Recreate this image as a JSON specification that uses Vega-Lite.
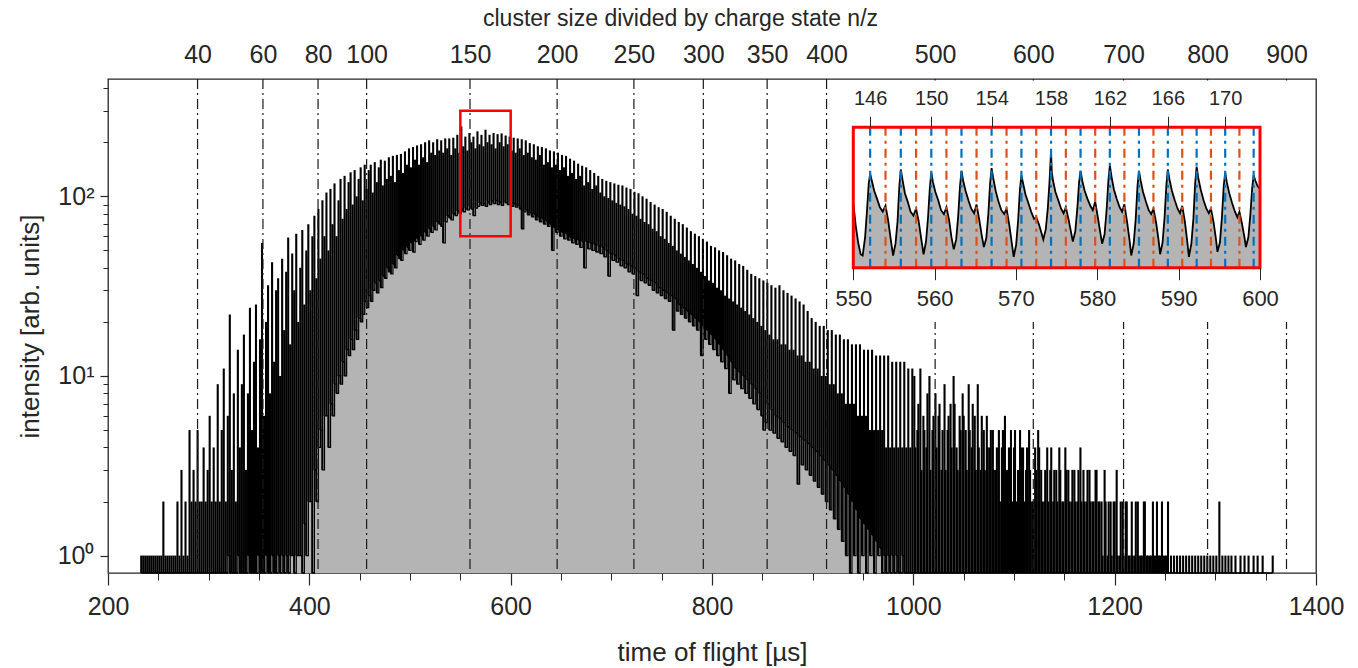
{
"$schema":"https://vega.github.io/schema/vega-lite/v6.json",
"width":1208,"height":494,
"autosize":{"type":"none"},
"padding":{"left":108,"top":79,"right":42,"bottom":95},
"background":"white",
"config":{"view":{"stroke":"#262626","strokeWidth":1.3},"font":"Liberation Sans",
"axis":{"labelFont":"Liberation Sans","titleFont":"Liberation Sans","labelColor":"#262626","titleColor":"#262626","tickColor":"#262626","domainColor":"#262626","titleFontWeight":"normal","grid":false,"labelFontSize":25,"titleFontSize":26,"labelOverlap":false,"labelFlush":false}},
"datasets":{
"box":[{"t0":550,"t1":600,"lo":60,"hi":300}],
"nz":[{"n":40,"t":288.97},{"n":60,"t":353.91},{"n":80,"t":408.66},{"n":100,"t":456.9},{"n":150,"t":559.59},{"n":200,"t":646.15},{"n":250,"t":722.42},{"n":300,"t":791.37},{"n":350,"t":854.78},{"n":400,"t":913.8},{"n":500,"t":1021.66},{"n":600,"t":1119.17},{"n":700,"t":1208.84},{"n":800,"t":1292.29},{"n":900,"t":1370.7}],
"peaks":[{"n":146,"t":552.07,"s":"even"},{"n":147,"t":553.96,"s":"odd"},{"n":148,"t":555.84,"s":"even"},{"n":149,"t":557.72,"s":"odd"},{"n":150,"t":559.59,"s":"even"},{"n":151,"t":561.45,"s":"odd"},{"n":152,"t":563.3,"s":"even"},{"n":153,"t":565.15,"s":"odd"},{"n":154,"t":567.0,"s":"even"},{"n":155,"t":568.84,"s":"odd"},{"n":156,"t":570.67,"s":"even"},{"n":157,"t":572.49,"s":"odd"},{"n":158,"t":574.31,"s":"even"},{"n":159,"t":576.13,"s":"odd"},{"n":160,"t":577.94,"s":"even"},{"n":161,"t":579.74,"s":"odd"},{"n":162,"t":581.54,"s":"even"},{"n":163,"t":583.33,"s":"odd"},{"n":164,"t":585.12,"s":"even"},{"n":165,"t":586.9,"s":"odd"},{"n":166,"t":588.67,"s":"even"},{"n":167,"t":590.44,"s":"odd"},{"n":168,"t":592.21,"s":"even"},{"n":169,"t":593.97,"s":"odd"},{"n":170,"t":595.72,"s":"even"},{"n":171,"t":597.47,"s":"odd"},{"n":172,"t":599.22,"s":"even"}],
"zoom":[{"t":550,"v":126},{"t":550.3,"v":97},{"t":550.6,"v":80},{"t":550.9,"v":70},{"t":551.15,"v":69},{"t":551.45,"v":85},{"t":551.7,"v":118},{"t":551.9,"v":158},
{"t":552.07,"v":176},{"t":552.27,"v":163},{"t":552.57,"v":145},{"t":552.92,"v":132},{"t":553.27,"v":120},{"t":553.62,"v":114},{"t":553.96,"v":122},{"t":554.27,"v":104},{"t":554.57,"v":85},{"t":554.89,"v":69},{"t":555.19,"v":79},{"t":555.44,"v":102},{"t":555.66,"v":153},
{"t":555.84,"v":185},{"t":556.04,"v":165},{"t":556.34,"v":141},{"t":556.69,"v":128},{"t":557.04,"v":114},{"t":557.39,"v":109},{"t":557.72,"v":118},{"t":558.04,"v":102},{"t":558.34,"v":84},{"t":558.64,"v":70},{"t":558.94,"v":81},{"t":559.19,"v":107},{"t":559.41,"v":150},
{"t":559.59,"v":179},{"t":559.79,"v":160},{"t":560.09,"v":143},{"t":560.44,"v":130},{"t":560.79,"v":116},{"t":561.14,"v":111},{"t":561.45,"v":120},{"t":561.77,"v":104},{"t":562.07,"v":85},{"t":562.35,"v":74},{"t":562.65,"v":83},{"t":562.9,"v":109},{"t":563.12,"v":153},
{"t":563.3,"v":182},{"t":563.5,"v":163},{"t":563.8,"v":145},{"t":564.15,"v":130},{"t":564.5,"v":118},{"t":564.85,"v":112},{"t":565.15,"v":124},{"t":565.47,"v":105},{"t":565.77,"v":88},{"t":566.05,"v":76},{"t":566.35,"v":84},{"t":566.6,"v":111},{"t":566.82,"v":158},
{"t":567.0,"v":188},{"t":567.2,"v":168},{"t":567.5,"v":145},{"t":567.85,"v":128},{"t":568.2,"v":116},{"t":568.55,"v":111},{"t":568.84,"v":118},{"t":569.16,"v":99},{"t":569.46,"v":81},{"t":569.72,"v":68},{"t":570.02,"v":78},{"t":570.27,"v":104},{"t":570.49,"v":148},
{"t":570.67,"v":173},{"t":570.87,"v":158},{"t":571.17,"v":139},{"t":571.52,"v":126},{"t":571.87,"v":114},{"t":572.22,"v":105},{"t":572.49,"v":107},{"t":572.81,"v":99},{"t":573.11,"v":90},{"t":573.36,"v":83},{"t":573.66,"v":93},{"t":573.91,"v":118},{"t":574.13,"v":163},
{"t":574.31,"v":228},{"t":574.4,"v":180},{"t":574.55,"v":163},{"t":574.85,"v":143},{"t":575.2,"v":130},{"t":575.55,"v":118},{"t":575.85,"v":112},{"t":576.13,"v":120},{"t":576.45,"v":105},{"t":576.75,"v":91},{"t":576.99,"v":81},{"t":577.29,"v":91},{"t":577.54,"v":118},{"t":577.76,"v":160},
{"t":577.94,"v":182},{"t":578.14,"v":163},{"t":578.44,"v":145},{"t":578.79,"v":132},{"t":579.14,"v":122},{"t":579.44,"v":116},{"t":579.74,"v":128},{"t":580.06,"v":107},{"t":580.36,"v":90},{"t":580.59,"v":79},{"t":580.89,"v":88},{"t":581.14,"v":116},{"t":581.36,"v":163},
{"t":581.54,"v":194},{"t":581.74,"v":171},{"t":582.04,"v":147},{"t":582.39,"v":132},{"t":582.74,"v":120},{"t":583.04,"v":114},{"t":583.33,"v":124},{"t":583.65,"v":102},{"t":583.95,"v":83},{"t":584.17,"v":69},{"t":584.47,"v":79},{"t":584.72,"v":105},{"t":584.94,"v":153},
{"t":585.12,"v":182},{"t":585.32,"v":163},{"t":585.62,"v":143},{"t":585.97,"v":128},{"t":586.32,"v":116},{"t":586.62,"v":111},{"t":586.9,"v":118},{"t":587.22,"v":101},{"t":587.52,"v":83},{"t":587.72,"v":70},{"t":588.02,"v":80},{"t":588.27,"v":107},{"t":588.49,"v":155},
{"t":588.67,"v":185},{"t":588.87,"v":165},{"t":589.17,"v":145},{"t":589.52,"v":130},{"t":589.87,"v":118},{"t":590.17,"v":112},{"t":590.44,"v":122},{"t":590.76,"v":102},{"t":591.06,"v":81},{"t":591.26,"v":68},{"t":591.56,"v":79},{"t":591.81,"v":105},{"t":592.03,"v":158},
{"t":592.21,"v":191},{"t":592.41,"v":168},{"t":592.71,"v":147},{"t":593.06,"v":130},{"t":593.41,"v":118},{"t":593.71,"v":112},{"t":593.97,"v":118},{"t":594.29,"v":101},{"t":594.59,"v":83},{"t":594.77,"v":72},{"t":595.07,"v":80},{"t":595.32,"v":107},{"t":595.54,"v":153},
{"t":595.72,"v":179},{"t":595.92,"v":160},{"t":596.22,"v":141},{"t":596.57,"v":126},{"t":596.92,"v":114},{"t":597.22,"v":107},{"t":597.47,"v":114},{"t":597.79,"v":99},{"t":598.09,"v":85},{"t":598.27,"v":76},{"t":598.57,"v":85},{"t":598.82,"v":111},{"t":599.04,"v":150},
{"t":599.22,"v":173},{"t":599.42,"v":163},{"t":599.7,"v":153},{"t":600,"v":148}],
"spec":[
{"t":233,"h":1,"l":0.5},{"t":235,"h":1,"l":0.5},{"t":237,"h":1,"l":0.5},{"t":239,"h":1,"l":0.5},{"t":241,"h":1,"l":0.5},{"t":243,"h":1,"l":0.5},{"t":245,"h":1,"l":0.5},{"t":247,"h":1,"l":0.5},{"t":249,"h":1,"l":0.5},{"t":251,"h":1,"l":0.5},{"t":253,"h":1,"l":0.5},{"t":255,"h":2,"l":0.5},{"t":257,"h":1,"l":0.5},{"t":259,"h":1,"l":0.5},{"t":261,"h":1,"l":0.5},{"t":263,"h":1,"l":0.5},{"t":265,"h":1,"l":0.5},{"t":267,"h":1,"l":0.5},{"t":269,"h":2,"l":0.5},{"t":271,"h":1,"l":0.5},{"t":273,"h":3,"l":0.5},{"t":275,"h":1,"l":0.5},{"t":277,"h":2,"l":0.5},{"t":279,"h":1,"l":0.5},{"t":281,"h":5,"l":0.5},{"t":283,"h":2,"l":0.5},{"t":285,"h":3,"l":0.5},{"t":287,"h":2,"l":0.5},{"t":289,"h":5,"l":0.5},
{"t":291,"h":2,"l":0.5},{"t":293,"h":2,"l":0.5},{"t":295,"h":4,"l":0.5},{"t":297,"h":2,"l":0.5},{"t":299,"h":3,"l":0.5},{"t":301,"h":6,"l":0.5},{"t":303,"h":2,"l":0.5},{"t":305,"h":4,"l":0.5},{"t":307,"h":2,"l":0.5},{"t":309,"h":9,"l":0.5},{"t":311,"h":2,"l":0.5},{"t":313,"h":5,"l":0.5},{"t":315,"h":11,"l":0.5},{"t":317,"h":2,"l":0.5},{"t":319,"h":6,"l":1},{"t":321,"h":22,"l":0.5},{"t":323,"h":3,"l":0.5},{"t":325,"h":8,"l":0.5},{"t":327,"h":2,"l":0.5},{"t":329,"h":14,"l":1},{"t":331,"h":4,"l":0.5},{"t":333,"h":9,"l":0.5},{"t":335,"h":17,"l":0.5},{"t":337,"h":3,"l":0.5},{"t":339,"h":8,"l":1},{"t":341,"h":24,"l":0.5},{"t":343,"h":5,"l":0.5},{"t":345,"h":12,"l":0.5},{"t":347,"h":25,"l":0.5},{"t":349,"h":4,"l":1},{"t":351,"h":16,"l":0.5},{"t":353,"h":55,"l":0.5},{"t":355,"h":6,"l":0.5},{"t":357,"h":20,"l":1},{"t":359,"h":32,"l":0.5},{"t":361,"h":8,"l":0.5},{"t":363,"h":43,"l":1},{"t":365,"h":12,"l":0.5},{"t":367,"h":30,"l":0.5},{"t":369,"h":35,"l":1},{"t":371,"h":10,"l":0.5},{"t":373,"h":45,"l":1},{"t":375,"h":18,"l":0.5},{"t":377,"h":38,"l":1},{"t":379,"h":59,"l":0.5},{"t":381,"h":15,"l":1},{"t":383,"h":48,"l":1},{"t":385,"h":30,"l":0.5},{"t":387,"h":62,"l":1},{"t":389,"h":20,"l":1},
{"t":391,"h":40,"l":1},{"t":393,"h":65,"l":0.5},{"t":395,"h":25,"l":1.5},{"t":397,"h":50,"l":1},{"t":399,"h":70,"l":2},{"t":401,"h":30,"l":2},{"t":403,"h":60,"l":0.5},{"t":405,"h":78,"l":3},{"t":407,"h":35,"l":2},{"t":409,"h":85,"l":4},{"t":411,"h":45,"l":5},{"t":413,"h":95,"l":3},{"t":415,"h":60,"l":6},{"t":417,"h":105,"l":6},{"t":419,"h":50,"l":4},{"t":421,"h":110,"l":7},{"t":423,"h":70,"l":6},{"t":425,"h":118,"l":9},{"t":427,"h":60,"l":8},{"t":429,"h":95,"l":10},
{"t":431,"h":125,"l":9},{"t":433,"h":75,"l":12},{"t":435,"h":130,"l":10},{"t":437,"h":85,"l":14},{"t":439,"h":120,"l":13},{"t":441,"h":136,"l":16},{"t":443,"h":90,"l":14},{"t":445,"h":140,"l":18},{"t":447,"h":100,"l":16},{"t":449,"h":125,"l":21},{"t":451,"h":145,"l":20},{"t":453,"h":95,"l":22},{"t":455,"h":150,"l":26},{"t":457,"h":110,"l":24},{"t":459,"h":140,"l":28},{"t":461,"h":150,"l":26},{"t":463,"h":105,"l":30},{"t":465,"h":155,"l":33},{"t":467,"h":120,"l":29},{"t":469,"h":145,"l":34},
{"t":471,"h":160,"l":31},{"t":473,"h":115,"l":36},{"t":475,"h":158,"l":35},{"t":477,"h":125,"l":40},{"t":479,"h":165,"l":38},{"t":481,"h":130,"l":37},{"t":483,"h":168,"l":42},{"t":485,"h":120,"l":40},{"t":487,"h":170,"l":47},{"t":489,"h":140,"l":45},{"t":491,"h":172,"l":44},{"t":493,"h":135,"l":50},{"t":495,"h":178,"l":48},{"t":497,"h":150,"l":52},{"t":499,"h":185,"l":50},{"t":501,"h":145,"l":55},{"t":503,"h":188,"l":49},{"t":505,"h":160,"l":56},{"t":507,"h":192,"l":58},{"t":509,"h":150,"l":54},
{"t":511,"h":195,"l":60},{"t":513,"h":165,"l":57},{"t":515,"h":200,"l":63},{"t":517,"h":155,"l":60},{"t":519,"h":205,"l":66},{"t":521,"h":175,"l":63},{"t":523,"h":200,"l":68},{"t":525,"h":170,"l":65},{"t":527,"h":208,"l":72},{"t":529,"h":180,"l":70},{"t":531,"h":205,"l":68},{"t":533,"h":175,"l":55},{"t":535,"h":210,"l":72},{"t":537,"h":185,"l":78},{"t":539,"h":210,"l":76},{"t":541,"h":170,"l":74},{"t":543,"h":212,"l":80},{"t":545,"h":185,"l":78},{"t":547,"h":220,"l":83},{"t":549,"h":175,"l":80},
{"t":551,"h":245,"l":85},{"t":553,"h":190,"l":82},{"t":555,"h":215,"l":86},{"t":557,"h":180,"l":84},{"t":559,"h":225,"l":88},{"t":561,"h":200,"l":85},{"t":563,"h":215,"l":78},{"t":565,"h":185,"l":86},{"t":567,"h":230,"l":88},{"t":569,"h":195,"l":92},{"t":571,"h":220,"l":89},{"t":573,"h":190,"l":91},{"t":575,"h":235,"l":88},{"t":577,"h":200,"l":93},{"t":579,"h":220,"l":90},{"t":581,"h":195,"l":94},{"t":583,"h":225,"l":91},{"t":585,"h":185,"l":95},{"t":587,"h":222,"l":90},{"t":589,"h":200,"l":93},
{"t":591,"h":224,"l":89},{"t":593,"h":190,"l":94},{"t":595,"h":218,"l":92},{"t":597,"h":195,"l":90},{"t":599,"h":215,"l":93},{"t":601,"h":180,"l":88},{"t":603,"h":212,"l":91},{"t":605,"h":175,"l":87},{"t":607,"h":210,"l":89},{"t":609,"h":185,"l":85},{"t":611,"h":208,"l":66},{"t":613,"h":170,"l":82},{"t":615,"h":205,"l":84},{"t":617,"h":175,"l":79},{"t":619,"h":198,"l":81},{"t":621,"h":165,"l":77},{"t":623,"h":195,"l":80},{"t":625,"h":160,"l":74},{"t":627,"h":190,"l":77},{"t":629,"h":170,"l":72},
{"t":631,"h":188,"l":75},{"t":633,"h":150,"l":70},{"t":635,"h":185,"l":73},{"t":637,"h":155,"l":68},{"t":639,"h":180,"l":70},{"t":641,"h":145,"l":50},{"t":643,"h":178,"l":67},{"t":645,"h":150,"l":63},{"t":647,"h":175,"l":65},{"t":649,"h":140,"l":60},{"t":651,"h":170,"l":63},{"t":653,"h":145,"l":58},{"t":655,"h":168,"l":62},{"t":657,"h":130,"l":57},{"t":659,"h":162,"l":59},{"t":661,"h":135,"l":55},{"t":663,"h":158,"l":58},{"t":665,"h":125,"l":54},{"t":667,"h":152,"l":57},{"t":669,"h":130,"l":52},
{"t":671,"h":148,"l":56},{"t":673,"h":115,"l":40},{"t":675,"h":145,"l":56},{"t":677,"h":120,"l":51},{"t":679,"h":140,"l":55},{"t":681,"h":110,"l":50},{"t":683,"h":135,"l":54},{"t":685,"h":115,"l":49},{"t":687,"h":130,"l":53},{"t":689,"h":105,"l":48},{"t":691,"h":125,"l":52},{"t":693,"h":100,"l":46},{"t":695,"h":122,"l":50},{"t":697,"h":98,"l":36},{"t":699,"h":120,"l":48},{"t":701,"h":95,"l":44},{"t":703,"h":118,"l":47},{"t":705,"h":92,"l":43},{"t":707,"h":116,"l":45},{"t":709,"h":90,"l":41},
{"t":711,"h":115,"l":44},{"t":713,"h":88,"l":40},{"t":715,"h":112,"l":42},{"t":717,"h":85,"l":38},{"t":719,"h":110,"l":41},{"t":721,"h":80,"l":37},{"t":723,"h":106,"l":40},{"t":725,"h":78,"l":28},{"t":727,"h":104,"l":38},{"t":729,"h":75,"l":34},{"t":731,"h":100,"l":37},{"t":733,"h":72,"l":33},{"t":735,"h":97,"l":35},{"t":737,"h":70,"l":32},{"t":739,"h":93,"l":34},{"t":741,"h":66,"l":30},{"t":743,"h":90,"l":33},{"t":745,"h":64,"l":29},{"t":747,"h":87,"l":31},{"t":749,"h":60,"l":28},
{"t":751,"h":85,"l":30},{"t":753,"h":58,"l":27},{"t":755,"h":82,"l":29},{"t":757,"h":55,"l":26},{"t":759,"h":78,"l":28},{"t":761,"h":53,"l":18},{"t":763,"h":75,"l":27},{"t":765,"h":50,"l":23},{"t":767,"h":72,"l":25},{"t":769,"h":48,"l":22},{"t":771,"h":70,"l":24},{"t":773,"h":46,"l":21},{"t":775,"h":67,"l":23},{"t":777,"h":44,"l":20},{"t":779,"h":64,"l":22},{"t":781,"h":42,"l":19},{"t":783,"h":62,"l":21},{"t":785,"h":40,"l":18},{"t":787,"h":60,"l":20},{"t":789,"h":38,"l":13},
{"t":791,"h":58,"l":19},{"t":793,"h":36,"l":16},{"t":795,"h":56,"l":18},{"t":797,"h":34,"l":15},{"t":799,"h":53,"l":17},{"t":801,"h":33,"l":14},{"t":803,"h":52,"l":16},{"t":805,"h":31,"l":13},{"t":807,"h":50,"l":15},{"t":809,"h":30,"l":12},{"t":811,"h":49,"l":14},{"t":813,"h":28,"l":11},{"t":815,"h":47,"l":13},{"t":817,"h":27,"l":8},{"t":819,"h":45,"l":12},{"t":821,"h":26,"l":9.5},{"t":823,"h":44,"l":11},{"t":825,"h":25,"l":9},{"t":827,"h":42,"l":10.5},{"t":829,"h":24,"l":8.5},
{"t":831,"h":41,"l":10},{"t":833,"h":23,"l":8},{"t":835,"h":39,"l":9.5},{"t":837,"h":22,"l":7.5},{"t":839,"h":37,"l":9},{"t":841,"h":21,"l":7},{"t":843,"h":36,"l":8.5},{"t":845,"h":20,"l":6.5},{"t":847,"h":35,"l":8},{"t":849,"h":19,"l":6},{"t":851,"h":34,"l":5},{"t":853,"h":18,"l":5.5},{"t":855,"h":33,"l":7},{"t":857,"h":17,"l":5},{"t":859,"h":32,"l":6.5},{"t":861,"h":16,"l":4.8},{"t":863,"h":31,"l":6},{"t":865,"h":16,"l":4.5},{"t":867,"h":32,"l":5.8},{"t":869,"h":15,"l":4.3},
{"t":871,"h":30,"l":5.5},{"t":873,"h":15,"l":4},{"t":875,"h":29,"l":5.2},{"t":877,"h":14,"l":3.8},{"t":879,"h":28,"l":5},{"t":881,"h":14,"l":3.6},{"t":883,"h":27,"l":4.8},{"t":885,"h":13,"l":2.5},{"t":887,"h":26,"l":4.6},{"t":889,"h":13,"l":3.2},{"t":891,"h":25,"l":4.4},{"t":893,"h":12,"l":3},{"t":895,"h":23,"l":4.2},{"t":897,"h":12,"l":2.8},{"t":899,"h":21,"l":4},{"t":901,"h":11,"l":2.6},{"t":903,"h":20,"l":3.8},{"t":905,"h":11,"l":2.4},{"t":907,"h":19,"l":3.6},{"t":909,"h":10,"l":2.2},
{"t":911,"h":19,"l":3.4},{"t":913,"h":10,"l":2},{"t":915,"h":18,"l":3.2},{"t":917,"h":9,"l":1.8},{"t":919,"h":18,"l":3},{"t":921,"h":9,"l":1.6},{"t":923,"h":17,"l":2.8},{"t":925,"h":8,"l":1.4},{"t":927,"h":17,"l":2.6},{"t":929,"h":8,"l":1.2},{"t":931,"h":16,"l":2.4},{"t":933,"h":7,"l":1},{"t":935,"h":16,"l":2.2},{"t":937,"h":7,"l":0.5},{"t":939,"h":15,"l":2},{"t":941,"h":7,"l":1},{"t":943,"h":15,"l":1.8},{"t":945,"h":6,"l":0.5},{"t":947,"h":15,"l":1.6},{"t":949,"h":6,"l":1},
{"t":951,"h":14,"l":1.5},{"t":953,"h":6,"l":0.5},{"t":955,"h":14,"l":1.4},{"t":957,"h":5,"l":1},{"t":959,"h":14,"l":1.3},{"t":961,"h":5,"l":0.5},{"t":963,"h":13,"l":1.2},{"t":965,"h":5,"l":1},{"t":967,"h":13,"l":1.1},{"t":969,"h":5,"l":0.5},{"t":971,"h":13,"l":1},{"t":973,"h":4,"l":0.5},{"t":975,"h":13,"l":1},{"t":977,"h":4,"l":0.5},{"t":979,"h":12,"l":1},{"t":981,"h":4,"l":0.5},{"t":983,"h":12,"l":1},{"t":985,"h":4,"l":0.5},{"t":987,"h":12,"l":0.5},{"t":989,"h":4,"l":1},
{"t":991,"h":12,"l":0.5},{"t":993,"h":4,"l":0.5},{"t":995,"h":11,"l":0.5},{"t":997,"h":4,"l":0.5},{"t":999,"h":11,"l":0.5},
{"t":1001,"h":10,"l":0.5},{"t":1004,"h":5,"l":0.5},{"t":1007,"h":11,"l":0.5},{"t":1010,"h":6,"l":0.5},{"t":1013,"h":4,"l":0.5},{"t":1016,"h":10,"l":0.5},{"t":1019,"h":5,"l":0.5},{"t":1022,"h":8,"l":0.5},{"t":1025,"h":6,"l":0.5},{"t":1028,"h":3,"l":0.5},{"t":1031,"h":9,"l":0.5},{"t":1034,"h":5,"l":0.5},{"t":1037,"h":7,"l":0.5},{"t":1040,"h":10,"l":0.5},{"t":1043,"h":4,"l":0.5},{"t":1046,"h":6,"l":0.5},{"t":1049,"h":8,"l":0.5},{"t":1052,"h":5,"l":0.5},{"t":1055,"h":9,"l":0.5},{"t":1058,"h":4,"l":0.5},
{"t":1061,"h":6,"l":0.5},{"t":1064,"h":9,"l":0.5},{"t":1067,"h":3,"l":0.5},{"t":1070,"h":5,"l":0.5},{"t":1073,"h":6,"l":0.5},{"t":1076,"h":4,"l":0.5},{"t":1079,"h":5,"l":0.5},{"t":1082,"h":3,"l":0.5},{"t":1085,"h":5,"l":0.5},{"t":1088,"h":4,"l":0.5},{"t":1091,"h":6,"l":0.5},{"t":1094,"h":3,"l":0.5},{"t":1097,"h":5,"l":0.5},{"t":1100,"h":4,"l":0.5},{"t":1103,"h":2,"l":0.5},{"t":1106,"h":5,"l":0.5},{"t":1109,"h":4,"l":0.5},{"t":1112,"h":3,"l":0.5},{"t":1115,"h":5,"l":0.5},{"t":1118,"h":2,"l":0.5},
{"t":1121,"h":4,"l":0.5},{"t":1124,"h":5,"l":0.5},{"t":1127,"h":3,"l":0.5},{"t":1130,"h":2,"l":0.5},{"t":1133,"h":4,"l":0.5},{"t":1136,"h":3,"l":0.5},{"t":1139,"h":2,"l":0.5},{"t":1142,"h":3,"l":0.5},{"t":1145,"h":4,"l":0.5},{"t":1148,"h":2,"l":0.5},{"t":1151,"h":4,"l":0.5},{"t":1154,"h":3,"l":0.5},{"t":1157,"h":2,"l":0.5},{"t":1160,"h":3,"l":0.5},{"t":1163,"h":2,"l":0.5},{"t":1166,"h":4,"l":0.5},{"t":1169,"h":3,"l":0.5},{"t":1172,"h":2,"l":0.5},{"t":1175,"h":3,"l":0.5},{"t":1178,"h":2,"l":0.5},
{"t":1181,"h":3,"l":0.5},{"t":1184,"h":2,"l":0.5},{"t":1187,"h":2,"l":0.5},{"t":1190,"h":3,"l":0.5},{"t":1193,"h":1,"l":0.5},{"t":1196,"h":2,"l":0.5},{"t":1199,"h":2,"l":0.5},{"t":1202,"h":3,"l":0.5},{"t":1205,"h":1,"l":0.5},{"t":1208,"h":2,"l":0.5},{"t":1211,"h":2,"l":0.5},{"t":1214,"h":1,"l":0.5},{"t":1217,"h":2,"l":0.5},{"t":1220,"h":1,"l":0.5},{"t":1223,"h":2,"l":0.5},{"t":1226,"h":1,"l":0.5},{"t":1229,"h":2,"l":0.5},{"t":1232,"h":1,"l":0.5},{"t":1235,"h":1,"l":0.5},{"t":1238,"h":2,"l":0.5},
{"t":1241,"h":1,"l":0.5},{"t":1244,"h":1,"l":0.5},{"t":1247,"h":2,"l":0.5},{"t":1250,"h":1,"l":0.5},{"t":1253,"h":2,"l":0.5},{"t":1256,"h":1,"l":0.5},{"t":1259,"h":1,"l":0.5},{"t":1262,"h":1,"l":0.5},{"t":1265,"h":1,"l":0.5},{"t":1268,"h":1,"l":0.5},{"t":1271,"h":1,"l":0.5},{"t":1274,"h":1,"l":0.5},{"t":1277,"h":1,"l":0.5},{"t":1280,"h":1,"l":0.5},{"t":1283,"h":1,"l":0.5},{"t":1286,"h":1,"l":0.5},{"t":1289,"h":1,"l":0.5},{"t":1292,"h":1,"l":0.5},{"t":1295,"h":1,"l":0.5},{"t":1298,"h":1,"l":0.5},
{"t":1301,"h":1,"l":0.5},{"t":1304,"h":2,"l":0.5},{"t":1307,"h":1,"l":0.5},{"t":1310,"h":1,"l":0.5},{"t":1313,"h":1,"l":0.5},{"t":1316,"h":1,"l":0.5},{"t":1320,"h":1,"l":0.5},{"t":1325,"h":1,"l":0.5},{"t":1329,"h":1,"l":0.5},{"t":1333,"h":1,"l":0.5},{"t":1338,"h":1,"l":0.5},{"t":1342,"h":1,"l":0.5},{"t":1347,"h":1,"l":0.5},{"t":1357,"h":1,"l":0.5},
{"t":1002,"h":4,"l":0.5},{"t":1005,"h":7,"l":0.5},{"t":1008,"h":3,"l":0.5},{"t":1011,"h":5,"l":0.5},{"t":1014,"h":8,"l":0.5},{"t":1017,"h":3,"l":0.5},{"t":1020,"h":6,"l":0.5},{"t":1023,"h":4,"l":0.5},{"t":1026,"h":7,"l":0.5},{"t":1029,"h":5,"l":0.5},{"t":1032,"h":3,"l":0.5},{"t":1035,"h":6,"l":0.5},{"t":1038,"h":4,"l":0.5},{"t":1041,"h":7,"l":0.5},{"t":1044,"h":3,"l":0.5},{"t":1047,"h":5,"l":0.5},{"t":1050,"h":6,"l":0.5},{"t":1053,"h":3,"l":0.5},{"t":1056,"h":5,"l":0.5},{"t":1059,"h":7,"l":0.5},
{"t":1062,"h":3,"l":0.5},{"t":1065,"h":4,"l":0.5},{"t":1068,"h":6,"l":0.5},{"t":1071,"h":3,"l":0.5},{"t":1074,"h":4,"l":0.5},{"t":1077,"h":5,"l":0.5},{"t":1080,"h":3,"l":0.5},{"t":1083,"h":4,"l":0.5},{"t":1086,"h":2,"l":0.5},{"t":1089,"h":5,"l":0.5},{"t":1092,"h":3,"l":0.5},{"t":1095,"h":4,"l":0.5},{"t":1098,"h":2,"l":0.5},{"t":1101,"h":5,"l":0.5},{"t":1104,"h":3,"l":0.5},{"t":1107,"h":4,"l":0.5},{"t":1110,"h":2,"l":0.5},{"t":1113,"h":4,"l":0.5},{"t":1116,"h":3,"l":0.5},{"t":1119,"h":2,"l":0.5},
{"t":1122,"h":3,"l":0.5},{"t":1125,"h":4,"l":0.5},{"t":1128,"h":2,"l":0.5},{"t":1131,"h":3,"l":0.5},{"t":1134,"h":2,"l":0.5},{"t":1137,"h":4,"l":0.5},{"t":1140,"h":3,"l":0.5},{"t":1143,"h":2,"l":0.5},{"t":1146,"h":3,"l":0.5},{"t":1149,"h":2,"l":0.5},{"t":1152,"h":3,"l":0.5},{"t":1155,"h":2,"l":0.5},{"t":1158,"h":3,"l":0.5},{"t":1161,"h":2,"l":0.5},{"t":1164,"h":3,"l":0.5},{"t":1167,"h":2,"l":0.5},{"t":1170,"h":2,"l":0.5},{"t":1173,"h":3,"l":0.5},{"t":1176,"h":2,"l":0.5},{"t":1179,"h":2,"l":0.5},
{"t":1182,"h":3,"l":0.5},{"t":1185,"h":2,"l":0.5},{"t":1188,"h":1,"l":0.5},{"t":1191,"h":2,"l":0.5},{"t":1194,"h":2,"l":0.5},{"t":1197,"h":1,"l":0.5},{"t":1200,"h":2,"l":0.5},{"t":1203,"h":1,"l":0.5},{"t":1206,"h":2,"l":0.5},{"t":1209,"h":1,"l":0.5},{"t":1212,"h":2,"l":0.5},{"t":1215,"h":1,"l":0.5},{"t":1218,"h":1,"l":0.5},{"t":1221,"h":2,"l":0.5},{"t":1224,"h":1,"l":0.5},{"t":1227,"h":1,"l":0.5},{"t":1230,"h":2,"l":0.5},{"t":1233,"h":1,"l":0.5},{"t":1236,"h":1,"l":0.5},{"t":1239,"h":1,"l":0.5},
{"t":1242,"h":2,"l":0.5},{"t":1245,"h":1,"l":0.5},{"t":1248,"h":1,"l":0.5},{"t":1251,"h":1,"l":0.5}
]},
"resolve":{"scale":{"x":"independent","y":"independent"},"axis":{"x":"independent","y":"independent"}},
"layer":[
{"resolve":{"axis":{"x":"independent","y":"independent"}},
"layer":[
{"data":{"name":"spec"},
"mark":{"type":"area","interpolate":"step-after","color":"#b4b4b4","opacity":1},
"encoding":{
"x":{"field":"t","type":"quantitative","scale":{"domain":[200,1400]},"axis":{"orient":"bottom","values":[200,400,600,800,1000,1200,1400],"format":"d","tickSize":12,"tickWidth":1.2,"labelPadding":9,"title":"time of flight [µs]","titlePadding":20,"domain":false}},
"y":{"field":"l","type":"quantitative","scale":{"type":"log","domain":[0.8,450],"clamp":true},"axis":{"orient":"left","values":[1,10,100],"labelExpr":"datum.value==1?'10⁰':datum.value==10?'10¹':'10²'","tickSize":8,"tickWidth":1.2,"labelPadding":6,"title":"intensity [arb. units]","titlePadding":14,"domain":false}}}},
{"data":{"name":"spec"},
"mark":{"type":"line","interpolate":"step-after","color":"#000000","strokeWidth":1.3},
"encoding":{
"x":{"field":"t","type":"quantitative","scale":{"domain":[200,1400]},"axis":{"orient":"bottom","values":[250,300,350,450,500,550,650,700,750,850,900,950,1050,1100,1150,1250,1300,1350],"labels":false,"tickSize":7,"domain":false,"title":null}},
"y":{"field":"l","type":"quantitative","scale":{"type":"log","domain":[0.8,450],"clamp":true},"axis":{"orient":"left","values":[2,3,4,5,6,7,8,9,20,30,40,50,60,70,80,90,200,300,400],"labels":false,"tickSize":5,"domain":false,"title":null}}}},
{"data":{"name":"spec"},
"mark":{"type":"rule","color":"#000000","strokeWidth":2.1},
"encoding":{
"x":{"field":"t","type":"quantitative","scale":{"domain":[200,1400]},"axis":null},
"y":{"field":"l","type":"quantitative","scale":{"type":"log","domain":[0.8,450],"clamp":true},"axis":null},"y2":{"field":"h"}}},
{"data":{"name":"nz"},
"mark":{"type":"rule","color":"#1a1a1a","strokeWidth":1.2,"strokeDash":[10,4,2,4]},
"encoding":{
"x":{"field":"t","type":"quantitative","scale":{"domain":[200,1400]},"axis":{"orient":"top","values":[288.97,353.91,408.66,456.9,559.59,646.15,722.42,791.37,854.78,913.8,1021.66,1119.17,1208.84,1292.29,1370.7],"labelExpr":"format(pow(datum.value/45.69,2),'.0f')","ticks":false,"tickSize":0,"labelPadding":12,"domain":false,"title":"cluster size divided by charge state n/z","titleFontSize":23,"titlePadding":12,"titleX":572,"titleAlign":"center"}}}},
{"data":{"name":"box"},
"mark":{"type":"rect","filled":false,"stroke":"#ff0000","strokeWidth":2.5},
"encoding":{
"x":{"field":"t0","type":"quantitative","scale":{"domain":[200,1400]},"axis":null},"x2":{"field":"t1"},
"y":{"field":"lo","type":"quantitative","scale":{"type":"log","domain":[0.8,450],"clamp":true},"axis":null},"y2":{"field":"hi"}}}
]},
{"resolve":{"axis":{"x":"independent","y":"independent"}},
"layer":[
{"data":{"name":"box"},
"mark":{"type":"rect","fill":"white","stroke":null},
"encoding":{
"x":{"datum":548,"type":"quantitative","scale":{"domain":[550,600],"range":[745.3,1152]},"axis":null},"x2":{"datum":603.5},
"y":{"datum":32.2,"type":"quantitative","scale":{"type":"log","domain":[60,300],"range":[188.7,48.3]},"axis":null},"y2":{"datum":513}}},
{"data":{"name":"zoom"},
"mark":{"type":"area","color":"#b4b4b4","opacity":1},
"encoding":{
"x":{"field":"t","type":"quantitative","scale":{"domain":[550,600],"range":[745.3,1152]},"axis":{"orient":"bottom","offset":-305.3,"values":[550,560,570,580,590,600],"tickSize":12,"labelPadding":9,"labelFontSize":22,"domain":false,"title":null,"zindex":1}},
"y":{"field":"v","type":"quantitative","scale":{"type":"log","domain":[60,300],"range":[188.7,48.3]},"axis":null},"y2":{"datum":60}}},
{"data":{"name":"zoom"},
"mark":{"type":"line","color":"#000000","strokeWidth":1.8},
"encoding":{
"x":{"field":"t","type":"quantitative","scale":{"domain":[550,600],"range":[745.3,1152]},"axis":null},
"y":{"field":"v","type":"quantitative","scale":{"type":"log","domain":[60,300],"range":[188.7,48.3]},"axis":null}}},
{"data":{"name":"peaks"},
"mark":{"type":"rule","strokeWidth":2.2,"strokeDash":[9,5,3,5]},
"encoding":{
"x":{"field":"t","type":"quantitative","scale":{"domain":[550,600],"range":[745.3,1152]},"axis":{"orient":"top","offset":-48.3,"values":[552.07,559.59,567.0,574.31,581.54,588.67,595.72],"labelExpr":"format(pow(datum.value/45.69,2),'.0f')","tickSize":11,"labelPadding":8,"labelFontSize":20,"domain":false,"title":null,"zindex":1}},
"y":{"datum":60,"type":"quantitative","scale":{"type":"log","domain":[60,300],"range":[188.7,48.3]},"axis":null},"y2":{"datum":300},
"color":{"field":"s","type":"nominal","scale":{"domain":["even","odd"],"range":["#0072BD","#D95319"]},"legend":null}}},
{"data":{"name":"box"},
"mark":{"type":"rect","filled":false,"stroke":"#ff0000","strokeWidth":3},
"encoding":{
"x":{"field":"t0","type":"quantitative","scale":{"domain":[550,600],"range":[745.3,1152]},"axis":null},"x2":{"field":"t1"},
"y":{"field":"lo","type":"quantitative","scale":{"type":"log","domain":[60,300],"range":[188.7,48.3]},"axis":null},"y2":{"field":"hi"}}}
]}
]
}
